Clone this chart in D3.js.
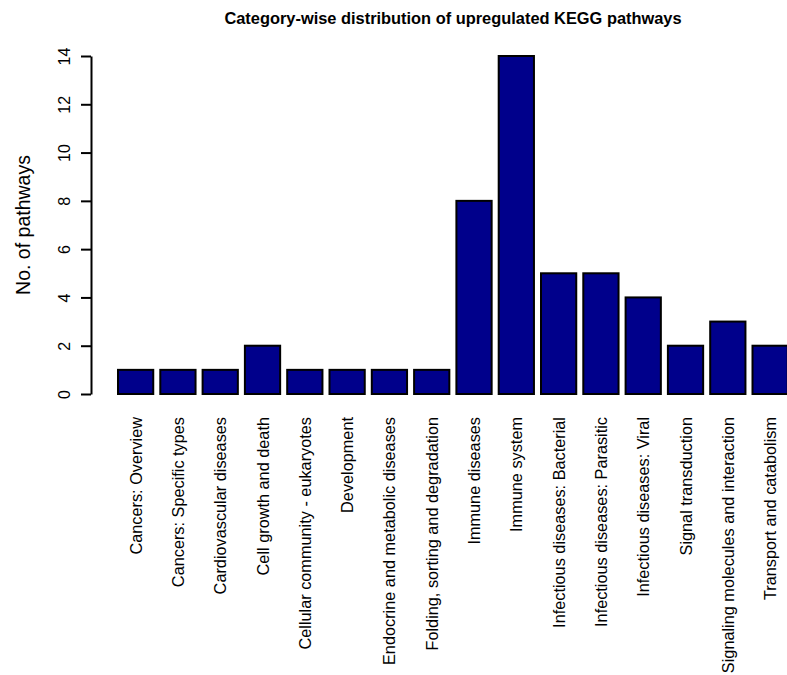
<!DOCTYPE html>
<meta charset="utf-8">
<style>
body { margin: 0; background: #fff; }
text { font-family: "Liberation Sans", Arial, sans-serif; fill: #000; }
</style>
<svg width="787" height="675"></svg>
<script src="https://d3js.org/d3.v7.min.js"></script>
<script>

var categories = [
  "Cancers: Overview",
  "Cancers: Specific types",
  "Cardiovascular diseases",
  "Cell growth and death",
  "Cellular community - eukaryotes",
  "Development",
  "Endocrine and metabolic diseases",
  "Folding, sorting and degradation",
  "Immune diseases",
  "Immune system",
  "Infectious diseases: Bacterial",
  "Infectious diseases: Parasitic",
  "Infectious diseases: Viral",
  "Signal transduction",
  "Signaling molecules and interaction",
  "Transport and catabolism"
];
var counts = [1, 1, 1, 2, 1, 1, 1, 1, 8, 14, 5, 5, 4, 2, 3, 2];
var yTicks = [0, 2, 4, 6, 8, 10, 12, 14];

var svg = d3.select("svg");

var x = d3.scaleBand()
    .domain(categories)
    .range([118, 787.75])
    .paddingInner(1 / 6)
    .paddingOuter(0);

var y = d3.scaleLinear()
    .domain([0, 14])
    .range([394, 56]);

// title
svg.append("text")
    .attr("x", 453)
    .attr("y", 24)
    .attr("text-anchor", "middle")
    .style("font-weight", "bold")
    .style("font-size", "16.4px")
    .text("Category-wise distribution of upregulated KEGG pathways");

// bars
svg.append("g")
  .selectAll("rect")
  .data(counts)
  .enter().append("rect")
    .attr("x", function(d, i) { return x(categories[i]); })
    .attr("y", function(d) { return y(d); })
    .attr("width", x.bandwidth())
    .attr("height", function(d) { return y(0) - y(d); })
    .attr("fill", "#00008B")
    .attr("stroke", "#000")
    .attr("stroke-width", 2);

// y axis
var yAxis = svg.append("g")
    .attr("transform", "translate(91,0)")
    .call(d3.axisLeft(y).tickValues(yTicks).tickSize(10).tickSizeOuter(0).tickFormat(d3.format("d")));

yAxis.select(".domain").attr("stroke-width", 2);
yAxis.selectAll(".tick line").attr("stroke-width", 2);
yAxis.selectAll(".tick text")
    .style("font-size", "16px")
    .style("font-family", "Liberation Sans, Arial, sans-serif")
    .attr("x", null).attr("dy", null)
    .attr("text-anchor", "middle")
    .attr("transform", "translate(-21,0) rotate(-90)");

svg.append("text")
    .attr("transform", "translate(30,225) rotate(-90)")
    .attr("text-anchor", "middle")
    .style("font-size", "19.5px")
    .text("No. of pathways");

// x labels
svg.append("g")
  .selectAll("text")
  .data(categories)
  .enter().append("text")
    .attr("transform", function(d) {
      return "translate(" + (x(d) + x.bandwidth() / 2 + 6) + ",417) rotate(-90)";
    })
    .attr("text-anchor", "end")
    .style("font-size", "16.3px")
    .text(function(d) { return d; });

</script>
